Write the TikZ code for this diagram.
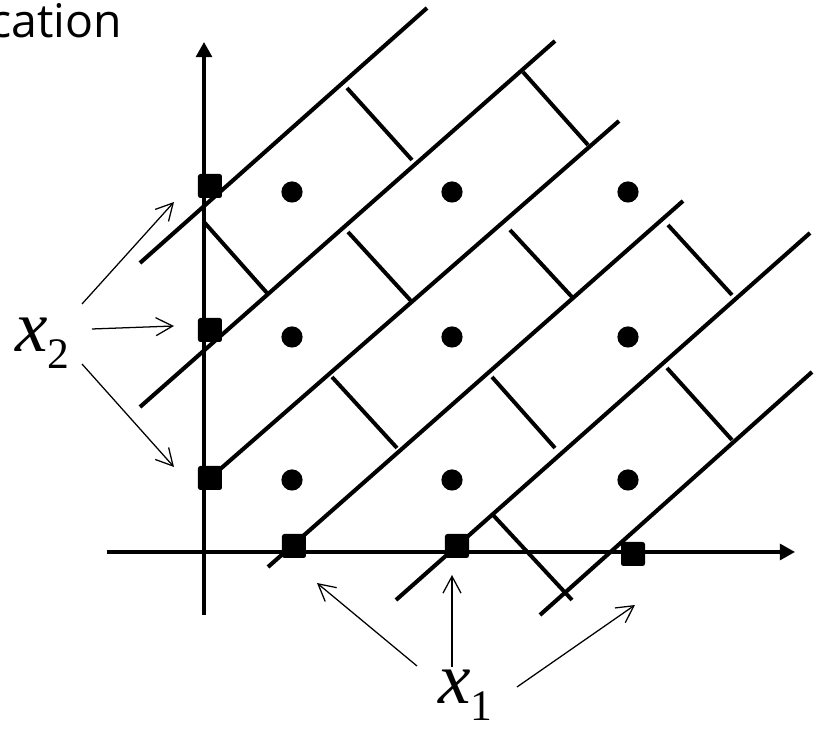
\documentclass[tikz,border=0pt]{standalone}
\usepackage{fontspec}
\setmainfont{Liberation Serif}
\newfontfamily\titlefont{Open Sans}
\newfontfamily\lblfont{Liberation Serif}
\usepackage{tikz}
\usetikzlibrary{arrows.meta}
\newcommand{\sublbl}[1]{\raisebox{-0.22em}{\upshape\fontsize{31}{36}\selectfont #1}}

\begin{document}
\begin{tikzpicture}[
  x=0.25mm, y=0.25mm,
  axis/.style={line width=2.3pt,-{Triangle[length=3.8mm,width=4mm]}},
  band/.style={line width=2.9pt},
  rung/.style={line width=2.8pt},
  pointer/.style={line width=0.9pt,-{Straight Barb[length=4.2mm,width=4.5mm]}},
  sqmark/.style={fill,rounded corners=0.6mm,minimum size=6mm,inner sep=0pt},
  gridpt/.style={circle,fill,minimum size=5.3mm,inner sep=0pt},
  lbl/.style={anchor=base west,inner sep=0pt,font=\lblfont\fontsize{52}{60}\selectfont\itshape}
]
  \useasboundingbox (-204,-177) rectangle (612,552);

  \node[anchor=base east,inner sep=0pt,font=\titlefont\fontsize{33}{40}\selectfont] (title) at (-82,514) {cation};

  % axes
  \draw[axis] (0,-63) -- (0,510);
  \draw[axis] (-97,0) -- (591,0);

  % diagonal bands
  \draw[band] (-64,289) -- (223,544);
  \draw[band] (-64,145) -- (351,511);
  \draw[band] (6,74) -- (415,431);
  \draw[band] (64,-15) -- (479,351);
  \draw[band] (192,-48) -- (606,319);
  \draw[band] (336,-63) -- (608,180);

  % cross pieces
  \draw[rung] (0,330) -- (63,259);
  \draw[rung] (143,464) -- (208,392);
  \draw[rung] (144,320) -- (208,250);
  \draw[rung] (319,480) -- (384,407);
  \draw[rung] (128,175) -- (193,104);
  \draw[rung] (306,322) -- (368,255);
  \draw[rung] (288,175) -- (351,104);
  \draw[rung] (464,327) -- (528,257);
  \draw[rung] (289,37) -- (368,-48);
  \draw[rung] (463,184) -- (528,112);

  % marks on the axes
  \node[sqmark] (ya) at (6,366) {};
  \node[sqmark] (yb) at (6,222) {};
  \node[sqmark] (yc) at (6,74) {};
  \node[sqmark] (xa) at (90,6) {};
  \node[sqmark] (xb) at (253,6) {};
  \node[sqmark] (xc) at (429,-2) {};

  % lattice points
  \node[gridpt] (p11) at (88,360) {};
  \node[gridpt] (p21) at (248,360) {};
  \node[gridpt] (p31) at (424,360) {};
  \node[gridpt] (p12) at (88,215) {};
  \node[gridpt] (p22) at (248,215) {};
  \node[gridpt] (p32) at (424,215) {};
  \node[gridpt] (p13) at (88,72) {};
  \node[gridpt] (p23) at (248,72) {};
  \node[gridpt] (p33) at (424,72) {};

  % labels
  \node[lbl] (lx2) at (-189,200) {x\sublbl{2}};
  \node[lbl] (lx1) at (234,-152) {x\sublbl{1}};

  \draw[pointer] ([shift={(67,48)}]lx2.base west) -- ([shift={(-36,-16)}]ya.center);
  \draw[pointer] ([shift={(77,23)}]lx2.base west) -- ([shift={(-36,4)}]yb.center);
  \draw[pointer] ([shift={(67,-12)}]lx2.base west) -- ([shift={(-36,11)}]yc.center);
  \draw[pointer] ([shift={(-21,38)}]lx1.base west) -- ([shift={(23,-37)}]xa.center);
  \draw[pointer] ([shift={(14,37)}]lx1.base west) -- ([shift={(-5,-29)}]xb.center);
  \draw[pointer] ([shift={(79,17)}]lx1.base west) -- ([shift={(2,-51)}]xc.center);
\end{tikzpicture}
\end{document}
